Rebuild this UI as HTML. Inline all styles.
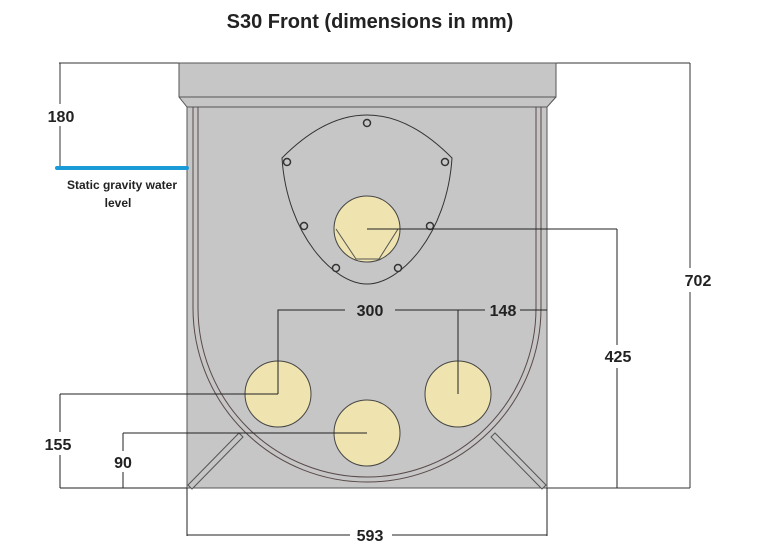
<!DOCTYPE html><html><head><style>body{margin:0;background:#fff}svg{display:block}text{font-family:"Liberation Sans",sans-serif;font-weight:bold;fill:#222}</style></head><body>
<svg width="760" height="550" viewBox="0 0 760 550">
<text x="370" y="28" text-anchor="middle" font-size="20">S30 Front (dimensions in mm)</text>
<g stroke="#333" stroke-width="1" fill="none">
<line x1="59" y1="63" x2="690" y2="63"/>
<line x1="60" y1="63" x2="60" y2="104"/><line x1="60" y1="126" x2="60" y2="168"/>
<line x1="690" y1="63" x2="690" y2="268"/><line x1="690" y1="292" x2="690" y2="488"/>
<line x1="547" y1="488" x2="690" y2="488"/>
</g>
<rect x="187" y="100" width="360" height="388" fill="#c6c6c6" stroke="#555"/>
<polygon points="179,63 556,63 556,97 547,107 187,107 179,97" fill="#c6c6c6" stroke="#555"/>
<line x1="179" y1="97" x2="556" y2="97" stroke="#555"/>
<g fill="none" stroke="#5a4a4a" stroke-width="1">
<path d="M193,107 V308 A174,174 0 0 0 541,308 V107"/>
<path d="M198,107 V308 A169,169 0 0 0 536,308 V107"/>
</g>
<g stroke="#555" fill="#c6c6c6">
<polygon points="188,485 239,433 243,437 192,489"/>
<polygon points="546,485 495,433 491,437 542,489"/>
</g>
<path d="M282,158 Q367,72 452,158 C447,235 400,284 367,284 C334,284 287,235 282,158 Z" fill="#c6c6c6" stroke="#333"/>
<g fill="#c6c6c6" stroke="#333" stroke-width="1.5">
<circle cx="367" cy="123" r="3.5"/><circle cx="287" cy="162" r="3.5"/><circle cx="445" cy="162" r="3.5"/>
<circle cx="304" cy="226" r="3.5"/><circle cx="430" cy="226" r="3.5"/><circle cx="336" cy="268" r="3.5"/><circle cx="398" cy="268" r="3.5"/>
</g>
<g fill="#efe3b0" stroke="#444">
<circle cx="367" cy="229" r="33"/>
<circle cx="278" cy="394" r="33"/><circle cx="367" cy="433" r="33"/><circle cx="458" cy="394" r="33"/>
</g>
<path d="M336,229 L356,259 H379 L398,229" fill="none" stroke="#555"/>
<g stroke="#222" stroke-width="1" fill="none">
<line x1="367" y1="229" x2="617" y2="229"/>
<line x1="617" y1="229" x2="617" y2="345"/><line x1="617" y1="368" x2="617" y2="488"/>
<path d="M278,394 V310 H345"/><line x1="395" y1="310" x2="485" y2="310"/><line x1="520" y1="310" x2="547" y2="310"/>
<line x1="458" y1="310" x2="458" y2="394"/>
<line x1="60" y1="394" x2="278" y2="394"/>
<line x1="60" y1="394" x2="60" y2="432"/><line x1="60" y1="455" x2="60" y2="488"/>
<line x1="60" y1="488" x2="187" y2="488"/>
<line x1="123" y1="433" x2="367" y2="433"/>
<line x1="123" y1="433" x2="123" y2="451"/><line x1="123" y1="472" x2="123" y2="488"/>
<line x1="187" y1="488" x2="187" y2="536"/><line x1="547" y1="488" x2="547" y2="536"/>
<line x1="187" y1="535" x2="350" y2="535"/><line x1="392" y1="535" x2="547" y2="535"/>
</g>
<line x1="57" y1="168" x2="187" y2="168" stroke="#1a9ad6" stroke-width="4" stroke-linecap="round"/>
<g font-size="16">
<text x="61" y="122" text-anchor="middle">180</text>
<text x="370" y="316" text-anchor="middle">300</text>
<text x="503" y="316" text-anchor="middle">148</text>
<text x="618" y="362" text-anchor="middle">425</text>
<text x="698" y="286" text-anchor="middle">702</text>
<text x="58" y="450" text-anchor="middle">155</text>
<text x="123" y="468" text-anchor="middle">90</text>
<text x="370" y="541" text-anchor="middle">593</text>
</g>
<text x="122" y="189" font-size="12" text-anchor="middle">Static gravity water</text>
<text x="118" y="207" font-size="12" text-anchor="middle">level</text>
</svg></body></html>
